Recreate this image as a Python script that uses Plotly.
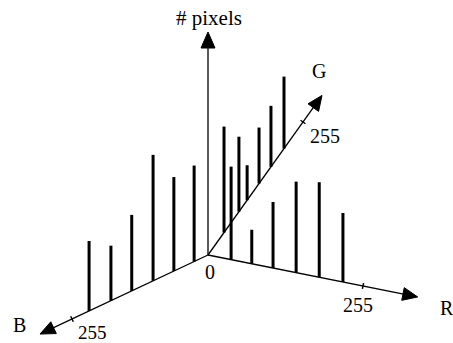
import numpy as np
import plotly.graph_objects as go

# histogram bins (0..255 on each colour axis) and pixel counts
b_bins = [26, 64, 103, 143, 182, 223]
b_counts = [96, 94, 126, 76, 55, 70]
g_bins = [43, 83, 105, 137, 169, 204]
g_counts = [106, 75, 35, 56, 61, 72]
r_bins = [38, 72, 107, 145, 183, 222]
r_counts = [93, 34, 66, 91, 95, 69]

axis_names = ["B", "G", "R"]
axis_ends = [315, 306, 345]
tick_value = 255
height_end = 223

# oblique projection of the 3D frame onto the page
origin = np.array([208.0, 255.0])
dirs = {
    "B": np.array([-136.0, 64.0]) / 255,
    "G": np.array([95.0, -133.0]) / 255,
    "R": np.array([155.0, 31.0]) / 255,
}
up = np.array([0.0, -1.0])


def proj(axis, v, h=0):
    return origin + dirs[axis] * v + up * h


FONT = "Liberation Serif"
fig = go.Figure()


def seg(p, q, w, color="black"):
    fig.add_trace(go.Scatter(x=[p[0], q[0]], y=[p[1], q[1]], mode="lines",
                             line=dict(color=color, width=w), hoverinfo="skip"))


def arrowhead(tip, d, length=15, half=6.5):
    d = d / np.linalg.norm(d)
    n = np.array([-d[1], d[0]])
    base = tip - d * length
    pts = [tip, base + n * half, base - n * half, tip]
    fig.add_trace(go.Scatter(x=[p[0] for p in pts], y=[p[1] for p in pts],
                             mode="lines", fill="toself", fillcolor="black",
                             line=dict(color="black", width=1), hoverinfo="skip"))


# colour axes with arrows and ticks
for name, end in zip(axis_names, axis_ends):
    tip = proj(name, end)
    d = dirs[name] / np.linalg.norm(dirs[name])
    seg(origin, tip - d * 8, 1.3)
    arrowhead(tip, d)
    n = np.array([-d[1], d[0]])
    t = proj(name, tick_value)
    seg(t - n * 3, t + n * 3, 1.5)

# vertical axis
vtip = origin + up * height_end
seg(origin, vtip - up * 8, 1.3)
arrowhead(vtip, up, length=16, half=7)

# histogram bars
for name, bins, counts in [("B", b_bins, b_counts), ("G", g_bins, g_counts), ("R", r_bins, r_counts)]:
    for v, c in zip(bins, counts):
        seg(proj(name, v), proj(name, v, c), 3)

labels = [
    ("# pixels", 209, 18, 21),
    ("G", 319, 71, 20),
    ("255", 325, 136, 20),
    ("B", 19, 325, 20),
    ("255", 92, 332, 19),
    ("R", 447, 308, 20),
    ("255", 358, 305, 20),
    ("0", 210, 272, 20),
]
for txt, x, y, s in labels:
    fig.add_annotation(x=x, y=y, text=txt, showarrow=False,
                       font=dict(family=FONT, size=s, color="black"))

fig.update_layout(
    width=453, height=343,
    margin=dict(l=0, r=0, t=0, b=0),
    paper_bgcolor="white", plot_bgcolor="white",
    showlegend=False,
    xaxis=dict(range=[0, 453], visible=False, fixedrange=True),
    yaxis=dict(range=[343, 0], visible=False, fixedrange=True),
)

fig.write_html("out.html", config={"displayModeBar": False},
               post_script="document.body.style.margin='0';")
